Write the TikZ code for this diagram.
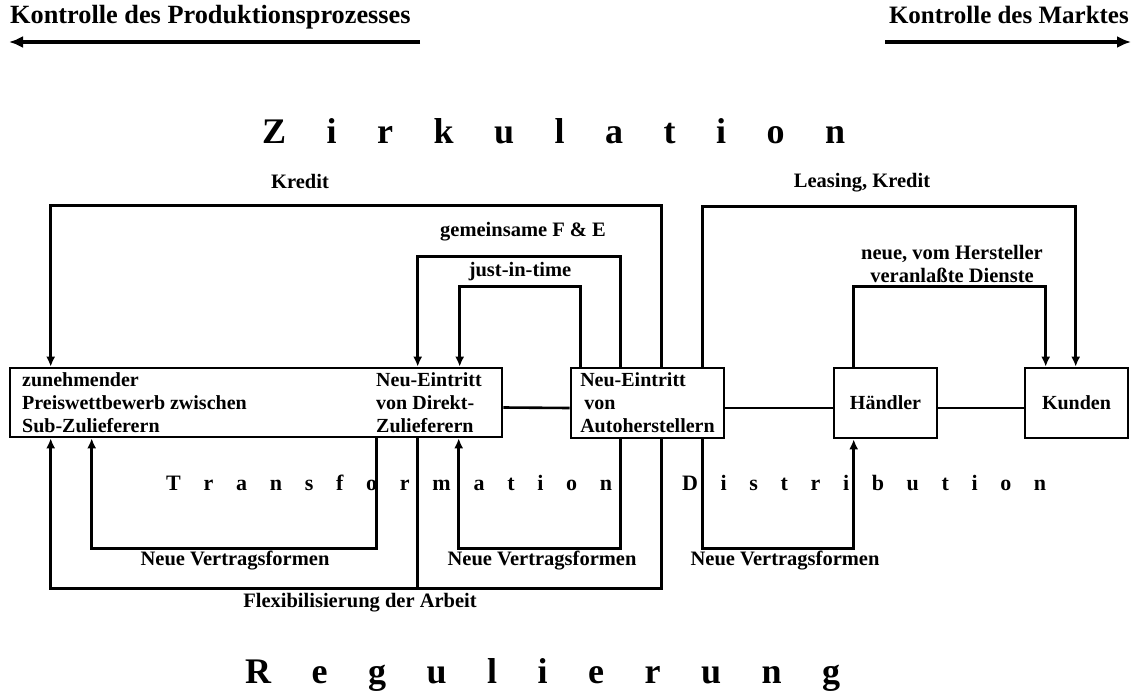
\documentclass[tikz,border=0pt]{standalone}
\usepackage{fontspec}
\setmainfont{Liberation Serif}
\usetikzlibrary{arrows.meta,calc}
\begin{document}
\begin{tikzpicture}[x=1pt,y=-1pt,
  lbl/.style={font=\bfseries\fontsize{20.5}{23}\selectfont, inner sep=0pt},
  box/.style={draw, line width=2.6pt, inner sep=0pt, font=\bfseries\fontsize{20}{23}\selectfont, align=left},
  txt/.style={font=\bfseries\fontsize{20}{23}\selectfont, align=left, inner sep=0pt, anchor=west},
  conn/.style={line width=2.6pt},
  arr/.style={conn, -{Latex[length=10pt,width=9pt]}},
  big/.style={font=\bfseries\fontsize{36}{40}\selectfont, inner sep=0pt, anchor=base west},
  mid/.style={font=\bfseries\fontsize{22}{26}\selectfont, inner sep=0pt, anchor=base west},
  head/.style={font=\bfseries\fontsize{26.3}{28}\selectfont, inner sep=0pt},
  harr/.style={line width=4pt, -{Latex[length=14pt,width=12pt]}}
]
\useasboundingbox (0,0) rectangle (1131,696);
\fill[white] (0,0) rectangle (1131,696);

% headers
\node[head, anchor=base west] (kp) at (10,23) {Kontrolle des Produktionsprozesses};
\node[head, anchor=base east, font=\bfseries\fontsize{25}{28}\selectfont] (km) at (1129,23) {Kontrolle des Marktes};
\coordinate (kpL) at (9,42);
\coordinate (kpR) at (420,42);
\coordinate (kmL) at (885,42);
\coordinate (kmR) at (1131,42);
\draw[harr] (kpR) -- (kpL);
\draw[harr] (kmL) -- (kmR);

% sector words
\node[big] (zirk) at (262,143) {\makebox[583pt][s]{Z\hfill i\hfill r\hfill k\hfill u\hfill l\hfill a\hfill t\hfill i\hfill o\hfill n}};
\node[mid] (trans) at (166,490) {\makebox[446pt][s]{T\hfill r\hfill a\hfill n\hfill s\hfill f\hfill o\hfill r\hfill m\hfill a\hfill t\hfill i\hfill o\hfill n}};
\node[mid] (distr) at (682,490) {\makebox[364pt][s]{D\hfill i\hfill s\hfill t\hfill r\hfill i\hfill b\hfill u\hfill t\hfill i\hfill o\hfill n}};
\node[big] (regul) at (245,683) {\makebox[595pt][s]{R\hfill e\hfill g\hfill u\hfill l\hfill i\hfill e\hfill r\hfill u\hfill n\hfill g}};

% boxes
\node[box, minimum width=492pt, minimum height=69pt] (zul) at (256,402.5) {};
\node[txt] (sub) at (22,403) {zunehmender\\Preiswettbewerb zwischen\\Sub-Zulieferern};
\node[txt] (direkt) at (376,403) {Neu-Eintritt\\von Direkt-\\Zulieferern};
\node[box, minimum width=153pt, minimum height=70pt] (auto) at (647.5,403) {Neu-Eintritt\\\hspace*{4pt}von\\Autoherstellern};
\node[box, minimum width=103pt, minimum height=70pt] (haendler) at (885.5,403) {Händler};
\node[box, minimum width=103pt, minimum height=70pt] (kunden) at (1076.5,403) {Kunden};

% horizontal links
\draw[conn] ([yshift=-5pt]zul.east) -- ([yshift=-5pt]auto.west);
\draw[conn] ([yshift=-5pt]auto.east) -- ([yshift=-5pt]haendler.west);
\draw[conn] ([yshift=-5pt]haendler.east) -- ([yshift=-5pt]kunden.west);

% upper connectors
\draw[arr] ([xshift=92pt]auto.north west) -- ++(0,-161) -| ([xshift=42pt]zul.north west);
\draw[arr] ([xshift=51pt]auto.north west) -- ++(0,-110) -| ([xshift=409pt]zul.north west);
\draw[arr] ([xshift=11pt]auto.north west) -- ++(0,-80) -| ([xshift=451pt]zul.north west);
\draw[arr] ([xshift=133pt]auto.north west) -- ++(0,-160) -| ([xshift=52pt]kunden.north west);
\draw[arr] ([xshift=21pt]haendler.north west) -- ++(0,-80) -| ([xshift=22pt]kunden.north west);

% lower connectors
\draw[arr] ([xshift=368pt]zul.south west) -- ++(0,110) -| ([xshift=83pt]zul.south west);
\draw[arr] ([xshift=51pt]auto.south west) -- ++(0,109) -| ([xshift=450pt]zul.south west);
\draw[arr] ([xshift=133pt]auto.south west) -- ++(0,109) -| ([xshift=21pt]haendler.south west);
\draw[arr] ([xshift=92pt]auto.south west) -- ++(0,149) -| ([xshift=42pt]zul.south west);
\draw[conn] ([xshift=409pt]zul.south west) -- ++(0,150);

% labels
\node[lbl] (kredit) at (300,181) {Kredit};
\node[lbl] (leasing) at (862,183) {Leasing, Kredit};
\node[lbl] (fe) at (523,232) {gemeinsame F \& E};
\node[lbl] (jit) at (520,272) {just-in-time};
\node[lbl, align=center] (dienste) at (952,264) {neue, vom Hersteller\\veranlaßte Dienste};
\node[lbl] (nv1) at (235,561) {Neue Vertragsformen};
\node[lbl] (nv2) at (542,561) {Neue Vertragsformen};
\node[lbl] (nv3) at (785,561) {Neue Vertragsformen};
\node[lbl] (flex) at (360,603) {Flexibilisierung der Arbeit};
\end{tikzpicture}
\end{document}
